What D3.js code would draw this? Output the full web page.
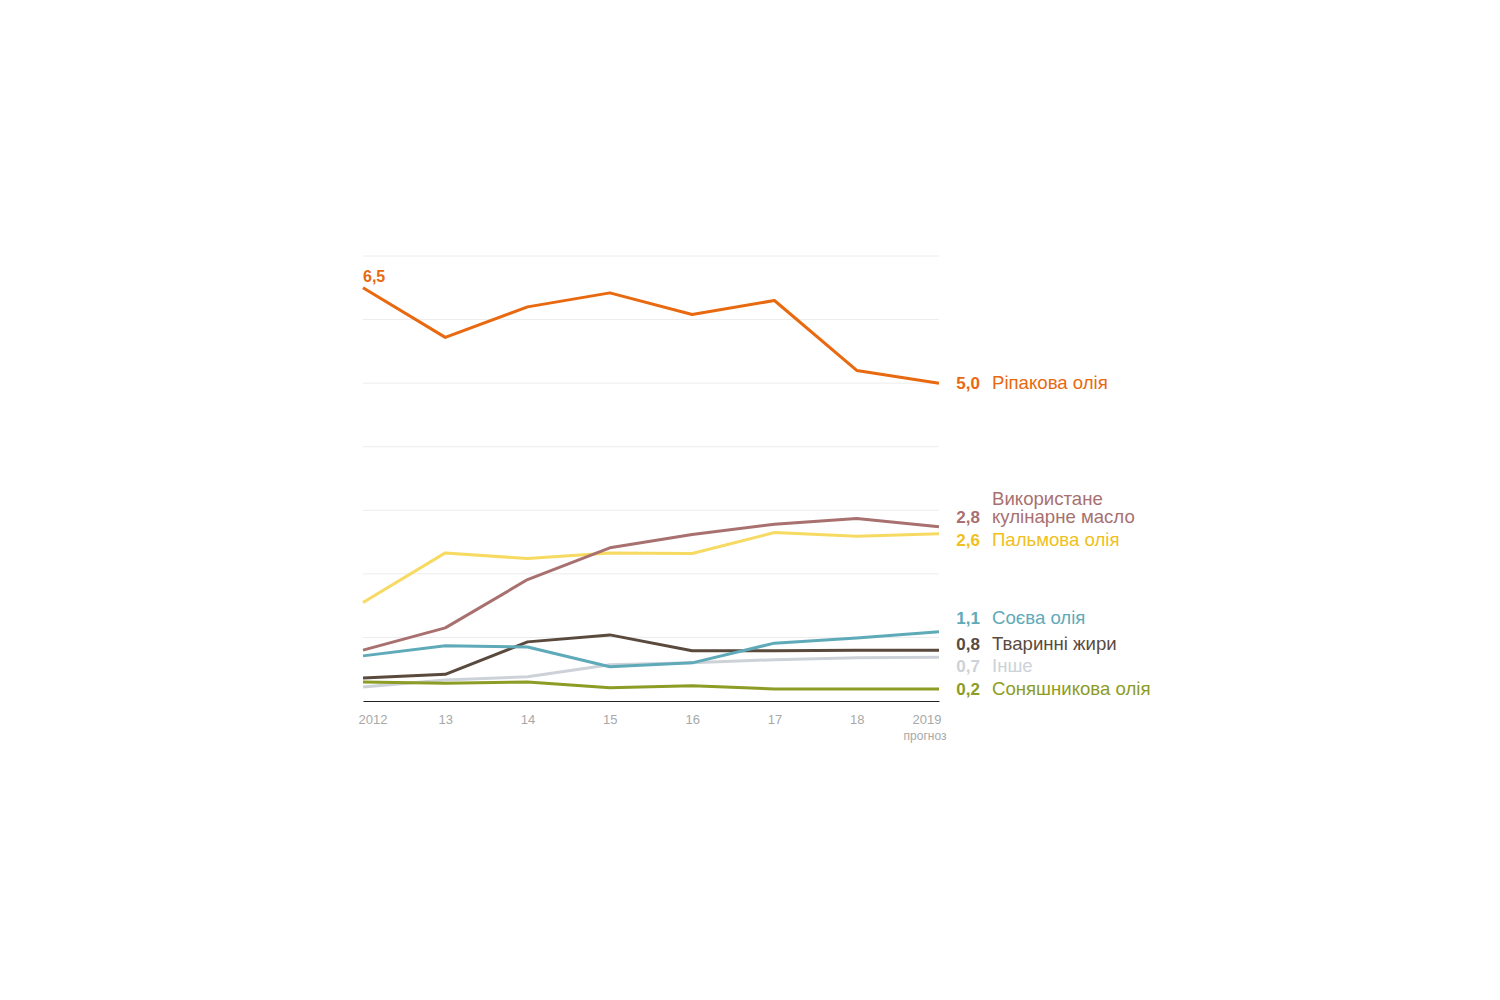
<!DOCTYPE html>
<html><head><meta charset="utf-8">
<script src="https://cdn.jsdelivr.net/npm/d3@7"></script>
<style>
body{margin:0;background:#fff;}
svg text{font-family:"Liberation Sans",Arial,sans-serif;}
</style></head>
<body><svg id="c" width="1500" height="1000"></svg>
<script>
const years = [2012,2013,2014,2015,2016,2017,2018,2019];
const tickLabels = ["2012","13","14","15","16","17","18","2019"];
const yTicks = [0,1,2,3,4,5,6,7];
const seriesNames = ["Ріпакова олія","Використане кулінарне масло","Пальмова олія","Соєва олія","Тваринні жири","Інше","Соняшникова олія"];
const seriesLabels = ["5,0","2,8","2,6","1,1","0,8","0,7","0,2"];
const rapeseed   = [6.50,5.72,6.20,6.42,6.08,6.30,5.20,5.00];
const usedCooking= [0.80,1.15,1.91,2.41,2.62,2.78,2.87,2.74];
const palm       = [1.55,2.33,2.24,2.33,2.32,2.65,2.59,2.63];
const soy        = [0.71,0.87,0.85,0.54,0.60,0.91,0.99,1.09];
const animalFats = [0.36,0.42,0.93,1.04,0.79,0.79,0.80,0.80];
const other      = [0.22,0.33,0.38,0.57,0.60,0.65,0.68,0.69];
const sunflower  = [0.30,0.28,0.30,0.21,0.24,0.19,0.19,0.19];
const seriesValues = [rapeseed,usedCooking,palm,soy,animalFats,other,sunflower];

const lineColors  = ["#e8690f","#a8706f","#f6da62","#5eaab8","#5a4a3d","#cdd2d8","#8c9c24"];
const labelColors = ["#e8690f","#a8706f","#f0c020","#5eaab8","#5a4a3d","#cdd2d8","#8c9c24"];
// label vertical offsets (px) from the line end to avoid overlaps
const labelShift = [0,-10,6,-14,-6,9,0];

const svg = d3.select("#c");
const x = d3.scaleLinear().domain([2012,2019]).range([363,939]);
const y = d3.scaleLinear().domain([0,7]).range([701,256]);

// gridlines
svg.append("g").selectAll("line").data(yTicks.filter(d=>d>0)).join("line")
  .attr("x1",x(2012)).attr("x2",x(2019))
  .attr("y1",d=>y(d)).attr("y2",d=>y(d))
  .attr("stroke","#ececec").attr("stroke-width",1);

// x axis
const xAxis = d3.axisBottom(x).tickValues(years).tickSize(0).tickFormat((d,i)=>tickLabels[i]);
const gx = svg.append("g").attr("transform",`translate(0,${y(0)})`).call(xAxis);
gx.select(".domain").attr("stroke","#222").attr("stroke-width",1.2);
gx.selectAll("text").attr("font-size",13).attr("fill","#a8a8a8").attr("y",14).attr("dy","0.71em")
  .attr("font-family","Liberation Sans, Arial, sans-serif")
  .attr("text-anchor",(d,i)=> i===0 ? "start" : (i===years.length-1 ? "end" : "middle"))
  .attr("dx",(d,i)=> i===0 ? -5 : (i===years.length-1 ? 2 : 0));
gx.append("text").attr("x",x(2019)-14).attr("y",39).attr("text-anchor","middle")
  .attr("font-size",12).attr("fill","#a8a8a8").text("прогноз");

// lines
const line = d3.line().x((d,i)=>x(years[i])).y(d=>y(d));
const order = [5,6,4,3,2,1,0];
svg.append("g").selectAll("path").data(order).join("path")
  .attr("d",k=>line(seriesValues[k]))
  .attr("fill","none").attr("stroke",k=>lineColors[k])
  .attr("stroke-width",3).attr("stroke-linejoin","round");

// start label
svg.append("text").attr("x",x(2012)).attr("y",y(rapeseed[0])-6)
  .attr("font-size",16).attr("font-weight","bold").attr("fill",labelColors[0]).text("6,5");

// end labels
const lab = svg.append("g");
seriesValues.forEach((vals,k)=>{
  const cy = y(vals[vals.length-1]) + labelShift[k];
  lab.append("text").attr("x",980).attr("y",cy+6).attr("text-anchor","end")
    .attr("font-size",17).attr("font-weight","bold").attr("fill",labelColors[k]).text(seriesLabels[k]);
  const t = lab.append("text").attr("font-size",18.6).attr("fill",labelColors[k]);
  if(k===1){
    t.append("tspan").attr("x",992).attr("y",cy-12).text("Використане");
    t.append("tspan").attr("x",992).attr("y",cy+6).text("кулінарне масло");
  } else {
    t.attr("x",992).attr("y",cy+6).text(seriesNames[k]);
  }
});
</script></body></html>
